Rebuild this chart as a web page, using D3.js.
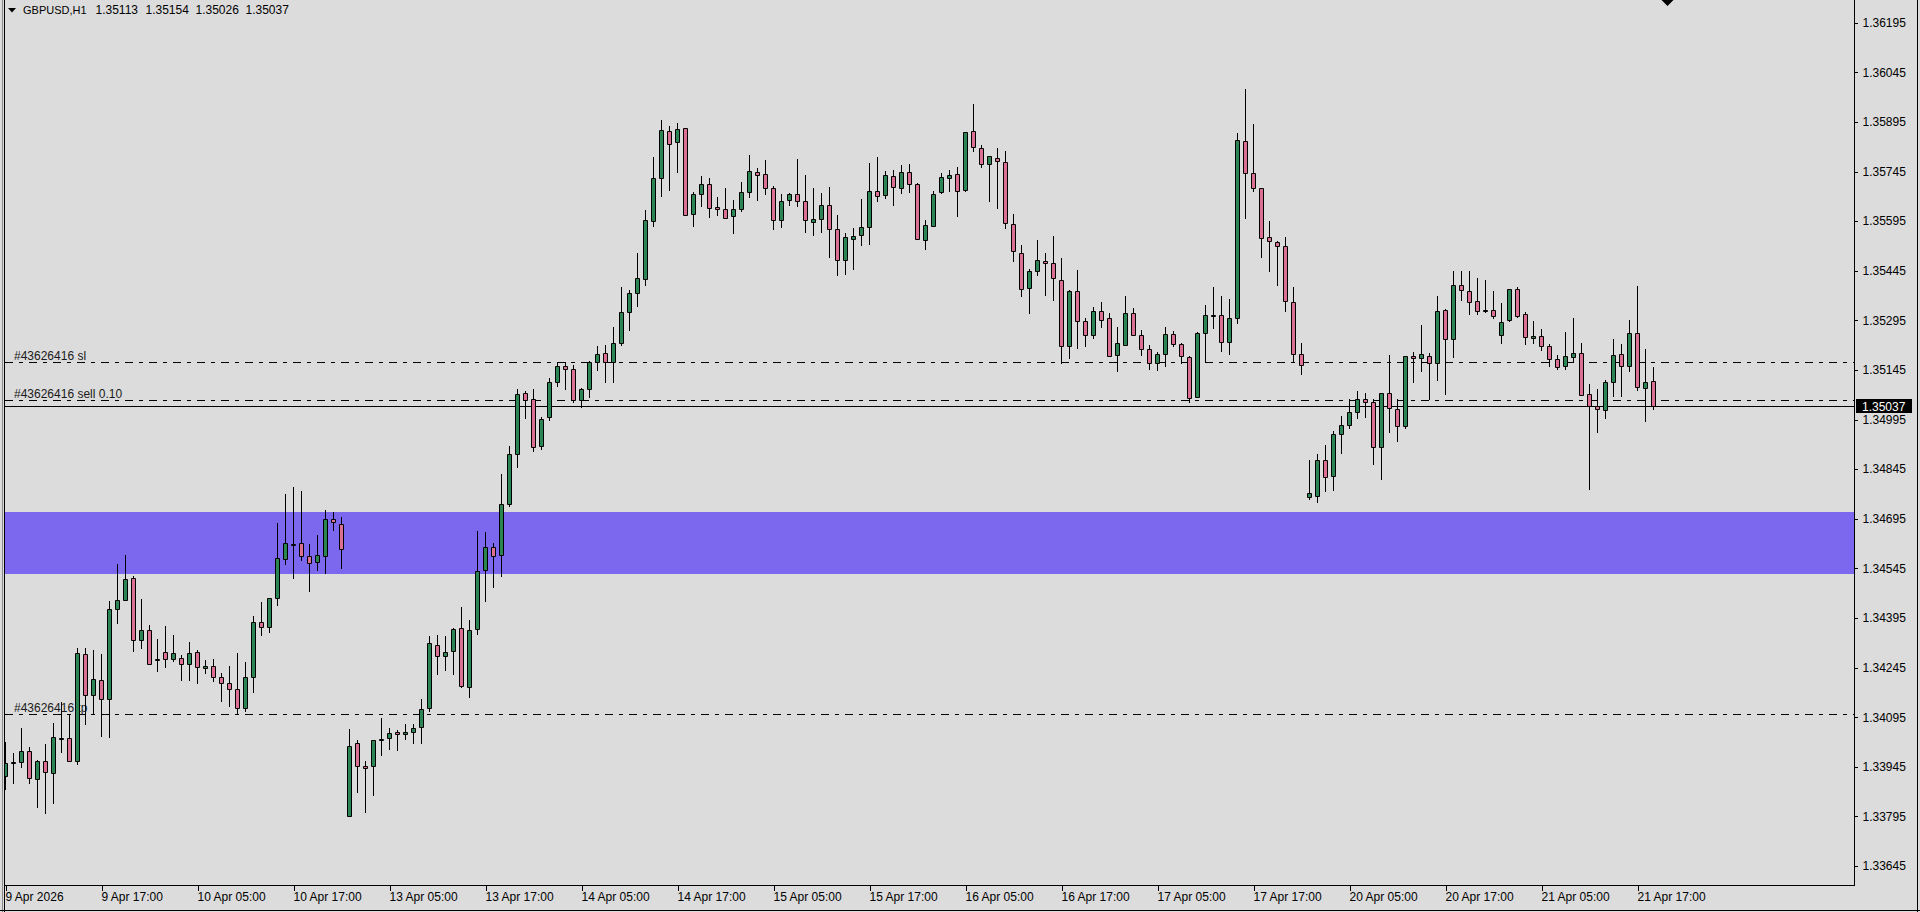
<!DOCTYPE html>
<html>
<head>
<meta charset="utf-8">
<script src="https://cdn.jsdelivr.net/npm/d3@7"></script>
<style>
  html, body { margin: 0; padding: 0; background: #dcdcdc; overflow: hidden; }
  svg { display: block; }
  text { font-family: "Liberation Sans", Arial, sans-serif; }
</style>
</head>
<body>
<div id="chart"></div>
<script>
// GBPUSD H1, bars 9 Apr 05:00 .. 21 Apr 19:00 (broker time)
const symbolLabel = 'GBPUSD,H1';

const opens = [
  1.33917,1.33958,1.33959,1.33992,1.33907,1.33964,1.33926,1.34032,1.34031,1.33961,
  1.34285,1.34161,1.34206,1.34149,1.34421,1.34448,1.34515,1.34327,1.34358,1.34270,
  1.34291,1.34270,1.34273,1.34255,1.34291,1.34243,1.34249,1.34216,1.34197,1.34179,
  1.34122,1.34216,1.34382,1.34367,1.34454,1.34572,1.34620,1.34622,1.34581,1.34563,
  1.34581,1.34693,1.34680,1.33795,1.34016,1.33946,1.33946,1.34030,1.34031,1.34049,
  1.34043,1.34049,1.34064,1.34122,1.34312,1.34279,1.34294,1.34364,1.34185,1.34361,
  1.34539,1.34610,1.34584,1.34741,1.34890,1.35074,1.35056,1.34915,1.35002,1.35110,
  1.35156,1.35147,1.35055,1.35086,1.35168,1.35195,1.35168,1.35225,1.35319,1.35379,
  1.35421,1.35594,1.35724,1.35867,1.35833,1.35876,1.35616,1.35676,1.35706,1.35637,
  1.35631,1.35610,1.35631,1.35682,1.35743,1.35736,1.35694,1.35597,1.35658,1.35676,
  1.35655,1.35592,1.35601,1.35643,1.35570,1.35476,1.35540,1.35552,1.35576,1.35685,
  1.35673,1.35731,1.35694,1.35743,1.35706,1.35537,1.35579,1.35682,1.35724,1.35736,
  1.35689,1.35867,1.35815,1.35767,1.35785,1.35773,1.35585,1.35500,1.35392,1.35443,
  1.35473,1.35467,1.35418,1.35216,1.35383,1.35292,1.35250,1.35322,1.35301,1.35189,
  1.35219,1.35316,1.35250,1.35207,1.35165,1.35192,1.35253,1.35222,1.35183,1.35062,
  1.35256,1.35311,1.35310,1.35229,1.35301,1.35836,1.35740,1.35694,1.35546,1.35531,
  1.35519,1.35349,1.35192,1.34761,1.34764,1.34874,1.34824,1.34952,1.34980,1.35019,
  1.35058,1.35047,1.34913,1.35076,1.35028,1.34974,1.35188,1.35180,1.35188,1.35165,
  1.35326,1.35238,1.35401,1.35383,1.35352,1.35325,1.35326,1.35250,1.35295,1.35389,
  1.35313,1.35241,1.35247,1.35216,1.35177,1.35156,1.35183,1.35195,1.35071,1.35035,
  1.35023,1.35110,1.35192,1.35156,1.35256,1.35089,1.35113
];
const highs = [
  1.34021,1.33986,1.34061,1.34006,1.33965,1.34014,1.34077,1.34140,1.34104,1.34305,
  1.34305,1.34298,1.34286,1.34446,1.34558,1.34585,1.34522,1.34451,1.34374,1.34331,
  1.34370,1.34343,1.34283,1.34322,1.34298,1.34268,1.34271,1.34228,1.34249,1.34288,
  1.34262,1.34400,1.34443,1.34455,1.34682,1.34770,1.34790,1.34778,1.34620,1.34647,
  1.34721,1.34715,1.34700,1.34059,1.34025,1.33961,1.34025,1.34092,1.34061,1.34055,
  1.34073,1.34073,1.34149,1.34339,1.34342,1.34339,1.34364,1.34427,1.34388,1.34658,
  1.34654,1.34622,1.34829,1.34915,1.35086,1.35081,1.35086,1.35004,1.35120,1.35165,
  1.35168,1.35159,1.35089,1.35171,1.35216,1.35219,1.35274,1.35395,1.35388,1.35500,
  1.35628,1.35788,1.35900,1.35882,1.35891,1.35876,1.35682,1.35731,1.35724,1.35667,
  1.35694,1.35658,1.35712,1.35794,1.35755,1.35779,1.35700,1.35676,1.35680,1.35783,
  1.35735,1.35695,1.35680,1.35697,1.35613,1.35558,1.35575,1.35663,1.35771,1.35789,
  1.35747,1.35750,1.35765,1.35768,1.35709,1.35597,1.35685,1.35740,1.35750,1.35758,
  1.35864,1.35949,1.35824,1.35791,1.35815,1.35806,1.35616,1.35524,1.35449,1.35539,
  1.35498,1.35549,1.35484,1.35387,1.35446,1.35301,1.35335,1.35349,1.35316,1.35274,
  1.35368,1.35332,1.35265,1.35219,1.35198,1.35274,1.35262,1.35225,1.35186,1.35259,
  1.35341,1.35397,1.35368,1.35359,1.35860,1.35994,1.35888,1.35694,1.35594,1.35534,
  1.35546,1.35395,1.35225,1.34872,1.34890,1.34919,1.34959,1.35007,1.35058,1.35082,
  1.35076,1.35058,1.35076,1.35189,1.35058,1.35188,1.35198,1.35280,1.35195,1.35368,
  1.35329,1.35443,1.35443,1.35443,1.35424,1.35416,1.35383,1.35346,1.35389,1.35395,
  1.35319,1.35292,1.35268,1.35222,1.35189,1.35259,1.35301,1.35225,1.35101,1.35086,
  1.35116,1.35238,1.35222,1.35295,1.35398,1.35207,1.35154
];
const lows = [
  1.33877,1.33897,1.33945,1.33895,1.33824,1.33806,1.33836,1.33990,1.33961,1.33953,
  1.34073,1.34104,1.34039,1.34036,1.34381,1.34448,1.34296,1.34305,1.34255,1.34236,
  1.34246,1.34266,1.34208,1.34208,1.34199,1.34228,1.34205,1.34145,1.34130,1.34105,
  1.34114,1.34172,1.34344,1.34353,1.34435,1.34559,1.34517,1.34571,1.34477,1.34541,
  1.34532,1.34661,1.34545,1.33795,1.33868,1.33807,1.33861,1.33981,1.33999,1.33997,
  1.34028,1.34018,1.34018,1.34113,1.34227,1.34239,1.34227,1.34185,1.34157,1.34346,
  1.34445,1.34488,1.34521,1.34735,1.34850,1.35000,1.34900,1.34906,1.34994,1.35097,
  1.35086,1.35049,1.35034,1.35062,1.35146,1.35109,1.35109,1.35219,1.35267,1.35339,
  1.35403,1.35581,1.35672,1.35690,1.35745,1.35613,1.35581,1.35642,1.35607,1.35615,
  1.35604,1.35558,1.35625,1.35667,1.35658,1.35676,1.35572,1.35576,1.35644,1.35641,
  1.35561,1.35552,1.35561,1.35486,1.35433,1.35436,1.35449,1.35522,1.35525,1.35655,
  1.35664,1.35645,1.35679,1.35684,1.35540,1.35510,1.35579,1.35679,1.35686,1.35612,
  1.35686,1.35806,1.35758,1.35657,1.35636,1.35573,1.35475,1.35368,1.35316,1.35433,
  1.35371,1.35355,1.35165,1.35180,1.35210,1.35216,1.35241,1.35274,1.35186,1.35143,
  1.35219,1.35250,1.35189,1.35147,1.35144,1.35156,1.35216,1.35165,1.35047,1.35062,
  1.35168,1.35271,1.35201,1.35192,1.35286,1.35604,1.35685,1.35487,1.35443,1.35403,
  1.35322,1.35168,1.35132,1.34755,1.34747,1.34779,1.34782,1.34894,1.34968,1.35000,
  1.35003,1.34862,1.34816,1.34956,1.34929,1.34968,1.35110,1.35143,1.35058,1.35115,
  1.35071,1.35183,1.35355,1.35313,1.35313,1.35321,1.35301,1.35225,1.35292,1.35304,
  1.35222,1.35225,1.35204,1.35156,1.35147,1.35147,1.35168,1.35068,1.34785,1.34956,
  1.35001,1.35065,1.35065,1.35141,1.35083,1.34990,1.35026
];
const closes = [
  1.33955,1.33956,1.33992,1.33910,1.33963,1.33928,1.34034,1.34033,1.33961,1.34288,
  1.34161,1.34209,1.34149,1.34421,1.34448,1.34512,1.34328,1.34358,1.34255,1.34269,
  1.34270,1.34288,1.34255,1.34288,1.34246,1.34250,1.34216,1.34197,1.34179,1.34122,
  1.34216,1.34382,1.34367,1.34454,1.34575,1.34622,1.34619,1.34581,1.34560,1.34584,
  1.34693,1.34684,1.34603,1.34007,1.33946,1.33940,1.34025,1.34029,1.34046,1.34043,
  1.34049,1.34061,1.34119,1.34318,1.34279,1.34291,1.34361,1.34188,1.34358,1.34536,
  1.34610,1.34581,1.34739,1.34890,1.35071,1.35054,1.34912,1.34998,1.35110,1.35156,
  1.35147,1.35055,1.35086,1.35168,1.35192,1.35168,1.35225,1.35319,1.35379,1.35424,
  1.35597,1.35724,1.35870,1.35827,1.35873,1.35613,1.35676,1.35706,1.35634,1.35631,
  1.35604,1.35631,1.35682,1.35746,1.35733,1.35694,1.35597,1.35655,1.35676,1.35655,
  1.35597,1.35601,1.35643,1.35570,1.35476,1.35546,1.35549,1.35576,1.35685,1.35672,
  1.35734,1.35697,1.35743,1.35706,1.35540,1.35582,1.35676,1.35727,1.35733,1.35686,
  1.35864,1.35818,1.35767,1.35791,1.35776,1.35588,1.35504,1.35389,1.35443,1.35476,
  1.35467,1.35424,1.35216,1.35383,1.35292,1.35250,1.35322,1.35295,1.35186,1.35225,
  1.35316,1.35250,1.35207,1.35165,1.35192,1.35253,1.35222,1.35186,1.35059,1.35256,
  1.35310,1.35312,1.35229,1.35301,1.35839,1.35740,1.35694,1.35543,1.35534,1.35519,
  1.35352,1.35192,1.35159,1.34773,1.34874,1.34821,1.34952,1.34980,1.35019,1.35058,
  1.35049,1.34913,1.35076,1.35031,1.34974,1.35188,1.35180,1.35192,1.35165,1.35322,
  1.35238,1.35401,1.35386,1.35349,1.35322,1.35324,1.35307,1.35289,1.35389,1.35307,
  1.35244,1.35247,1.35216,1.35177,1.35153,1.35186,1.35195,1.35068,1.35035,1.35026,
  1.35110,1.35189,1.35156,1.35256,1.35092,1.35110,1.35037
];

const priceTicks = [
  1.36195,1.36045,1.35895,1.35745,1.35595,1.35445,1.35295,1.35145,1.34995,
  1.34845,1.34695,1.34545,1.34395,1.34245,1.34095,1.33945,1.33795,1.33645
];
const timeTickBars = [0,12,24,36,48,60,72,84,96,108,120,132,144,156,168,180,192,204];
const timeTickLabels = [
  '9 Apr 2026','9 Apr 17:00','10 Apr 05:00','10 Apr 17:00','13 Apr 05:00','13 Apr 17:00',
  '14 Apr 05:00','14 Apr 17:00','15 Apr 05:00','15 Apr 17:00','16 Apr 05:00','16 Apr 17:00',
  '17 Apr 05:00','17 Apr 17:00','20 Apr 05:00','20 Apr 17:00','21 Apr 05:00','21 Apr 17:00'
];

const zoneTop = 1.34715;
const zoneBottom = 1.34528;
const orderLabels = ['#43626416 sl', '#43626416 sell 0.10', '#43626416 tp'];
const orderPrices = [1.35169, 1.35055, 1.34104];
const bidPrice = 1.35037;

const width = 1920, height = 912;
const plotLeft = 4.5, plotRight = 1854.5, plotBottom = 885.5;
const bullColor = '#2a8552', bearColor = '#db7093';

const svg = d3.select('#chart').append('svg')
  .attr('width', width).attr('height', height)
  .style('background', '#dcdcdc');

const x = d3.scaleLinear().domain([0, 206]).range([5.5, 1653.5]);
const y = d3.scaleLinear().domain([1.33645, 1.36195]).range([866, 22.7]);
const py = v => Math.round(y(v)) + 0.5;

svg.append('defs').append('clipPath').attr('id', 'plotClip')
  .append('rect').attr('x', 5).attr('y', 0).attr('width', 1849).attr('height', 885);

const plot = svg.append('g').attr('clip-path', 'url(#plotClip)');

// support / resistance zone
plot.append('rect')
  .attr('x', 5).attr('width', plotRight - 5)
  .attr('y', Math.round(y(zoneTop)))
  .attr('height', Math.round(y(zoneBottom)) - Math.round(y(zoneTop)))
  .attr('fill', '#7b68ee');

// order levels (dash-dot)
plot.selectAll('.order-line')
  .data(orderPrices)
  .enter()
  .append('line')
  .attr('class', 'order-line')
  .attr('x1', 5).attr('x2', plotRight)
  .attr('y1', d => py(d)).attr('y2', d => py(d))
  .attr('stroke', '#000').attr('stroke-width', 1)
  .attr('stroke-dasharray', '8,6,4,6')
  .attr('shape-rendering', 'crispEdges');

plot.selectAll('.order-label')
  .data(orderPrices)
  .enter()
  .append('text')
  .attr('class', 'order-label')
  .attr('x', 14)
  .attr('y', d => py(d) - 3)
  .attr('font-size', '12px')
  .attr('fill', '#1a1a1a')
  .text((d, i) => orderLabels[i]);

// bid line
plot.append('line')
  .attr('x1', 0).attr('x2', plotRight)
  .attr('y1', py(bidPrice)).attr('y2', py(bidPrice))
  .attr('stroke', '#000').attr('stroke-width', 1)
  .attr('shape-rendering', 'crispEdges');

// candles
const bars = d3.range(opens.length);
const candle = plot.selectAll('.candle')
  .data(bars)
  .enter()
  .append('g')
  .attr('class', 'candle');

candle.append('line')
  .attr('x1', i => x(i)).attr('x2', i => x(i))
  .attr('y1', i => py(highs[i]) - 0.5).attr('y2', i => py(lows[i]) + 0.5)
  .attr('stroke', '#000').attr('stroke-width', 1);

candle.append('path')
  .attr('d', i => {
    const top = py(Math.max(opens[i], closes[i]));
    let bot = py(Math.min(opens[i], closes[i]));
    if (bot - top < 1) bot = top + 1;
    const l = x(i) - 2, r = x(i) + 2;
    return `M${l},${top}H${r}V${bot}H${l}Z`;
  })
  .attr('fill', i => (closes[i] >= opens[i] ? bullColor : bearColor))
  .attr('stroke', '#000').attr('stroke-width', 1);

// price axis
const yAxis = svg.append('g')
  .attr('transform', `translate(${plotRight},0)`)
  .call(d3.axisRight(y).tickValues(priceTicks).tickFormat(d3.format('.5f'))
    .tickSize(3).tickSizeOuter(0).tickPadding(5));
yAxis.select('.domain').remove();
yAxis.selectAll('line').attr('stroke', '#000').attr('shape-rendering', 'crispEdges');
yAxis.selectAll('text').attr('font-size', '12px').attr('font-family', '"Liberation Sans", Arial, sans-serif').attr('fill', '#000');

// time axis
const xAxis = svg.append('g')
  .attr('transform', `translate(0,${plotBottom})`)
  .call(d3.axisBottom(x).tickValues(timeTickBars).tickFormat((d, i) => timeTickLabels[i])
    .tickSize(5).tickSizeOuter(0).tickPadding(2));
xAxis.select('.domain').remove();
xAxis.selectAll('line').attr('stroke', '#000').attr('shape-rendering', 'crispEdges');
xAxis.selectAll('text')
  .attr('text-anchor', 'start')
  .attr('dx', '-0.5')
  .attr('font-size', '12px')
  .attr('font-family', '"Liberation Sans", Arial, sans-serif')
  .attr('fill', '#000');

// frame
svg.append('line').attr('x1', plotRight).attr('x2', plotRight).attr('y1', 0).attr('y2', plotBottom)
  .attr('stroke', '#000').attr('shape-rendering', 'crispEdges');
svg.append('line').attr('x1', plotLeft).attr('x2', plotRight).attr('y1', plotBottom).attr('y2', plotBottom)
  .attr('stroke', '#000').attr('shape-rendering', 'crispEdges');
svg.append('line').attr('x1', 2.5).attr('x2', 2.5).attr('y1', 0).attr('y2', height)
  .attr('stroke', '#8a8a8a').attr('shape-rendering', 'crispEdges');
svg.append('line').attr('x1', plotLeft).attr('x2', plotLeft).attr('y1', 0).attr('y2', height)
  .attr('stroke', '#000').attr('shape-rendering', 'crispEdges');
svg.append('line').attr('x1', 1917.5).attr('x2', 1917.5).attr('y1', 0).attr('y2', height)
  .attr('stroke', '#000').attr('shape-rendering', 'crispEdges');
svg.append('line').attr('x1', 0).attr('x2', width).attr('y1', 910.5).attr('y2', 910.5)
  .attr('stroke', '#000').attr('shape-rendering', 'crispEdges');

// bid price tag
svg.append('rect')
  .attr('x', 1856).attr('y', py(bidPrice) - 7.5)
  .attr('width', 56).attr('height', 14)
  .attr('fill', '#000');
svg.append('text')
  .attr('x', 1862).attr('y', py(bidPrice)).attr('dy', '0.34em')
  .attr('font-size', '12px').attr('fill', '#fff')
  .text(d3.format('.5f')(bidPrice));

// header
svg.append('path').attr('d', 'M8,8H16L12,12.5Z').attr('fill', '#000');
const headerValues = [opens[206], highs[206], lows[206], closes[206]];
svg.append('text').attr('x', 23).attr('y', 14).attr('font-size', '11px').attr('fill', '#000')
  .text(symbolLabel);
svg.selectAll('.ohlc')
  .data(headerValues)
  .enter()
  .append('text')
  .attr('class', 'ohlc')
  .attr('x', (d, i) => 95.5 + i * 50)
  .attr('y', 14)
  .attr('font-size', '12px')
  .attr('fill', '#000')
  .text(d => d3.format('.5f')(d));

// chart shift marker
svg.append('path').attr('d', 'M1661.5,0H1673.5L1667.5,6Z').attr('fill', '#000');
</script>
</body>
</html>
